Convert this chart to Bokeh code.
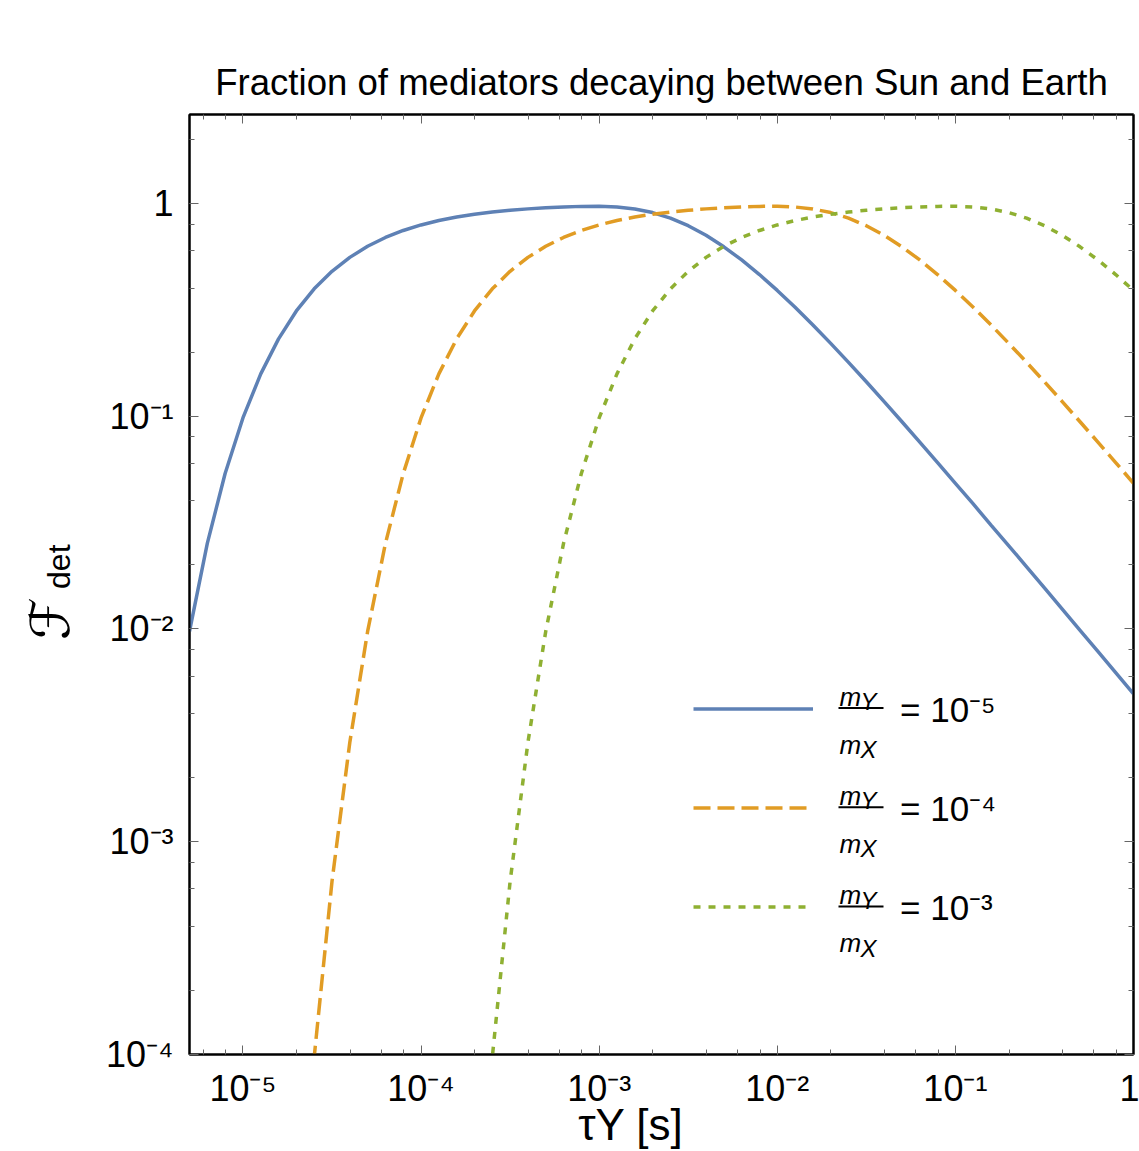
from bokeh.plotting import figure
from bokeh.models import (LogAxis, LogTicker, CustomJSTickFormatter, Legend, LegendItem,
                          Label, BoxAnnotation, Range1d)
from bokeh.embed import file_html
from bokeh.resources import INLINE

# ---------------- data ----------------
tau_blue = [5.012e-6, 6.310e-6, 7.943e-6,
            1.000e-5, 1.259e-5, 1.585e-5, 1.995e-5, 2.512e-5, 3.162e-5, 3.981e-5, 5.012e-5, 6.310e-5, 7.943e-5,
            1.000e-4, 1.259e-4, 1.585e-4, 1.995e-4, 2.512e-4, 3.162e-4, 3.981e-4, 5.012e-4, 6.310e-4, 7.943e-4,
            1.000e-3, 1.259e-3, 1.585e-3, 1.995e-3, 2.512e-3, 3.162e-3, 3.981e-3, 5.012e-3, 6.310e-3, 7.943e-3,
            1.000e-2, 1.259e-2, 1.585e-2, 1.995e-2, 2.512e-2, 3.162e-2, 3.981e-2, 5.012e-2, 6.310e-2, 7.943e-2,
            1.000e-1, 1.259e-1, 1.585e-1, 1.995e-1, 2.512e-1, 3.162e-1, 3.981e-1, 5.012e-1, 6.310e-1, 7.943e-1,
            1.0]
f_blue = [9.74e-3, 0.02525, 0.0538, 0.0982, 0.1582, 0.2311, 0.3125, 0.3970, 0.4800, 0.5582,
          0.6293, 0.6922, 0.7466, 0.7929, 0.8316, 0.8637, 0.8902, 0.9118, 0.9292, 0.9434,
          0.9547, 0.9635, 0.9693, 0.9703, 0.9627, 0.9426, 0.9063, 0.8535, 0.7862, 0.7085,
          0.6258, 0.5427, 0.4634, 0.3904, 0.3253, 0.2685, 0.2200, 0.1792, 0.1452, 0.1172,
          0.0942, 0.0756, 0.0606, 0.0484, 0.0387, 0.0308, 0.0246, 0.0196, 0.0156, 0.0124,
          0.00986, 0.00784, 0.00623, 0.00495]

tau_orange = [1.995e-5, 2.512e-5, 3.162e-5, 3.981e-5, 5.012e-5, 6.310e-5, 7.943e-5,
              1.000e-4, 1.259e-4, 1.585e-4, 1.995e-4, 2.512e-4, 3.162e-4, 3.981e-4, 5.012e-4, 6.310e-4, 7.943e-4,
              1.000e-3, 1.259e-3, 1.585e-3, 1.995e-3, 2.512e-3, 3.162e-3, 3.981e-3, 5.012e-3, 6.310e-3, 7.943e-3,
              1.000e-2, 1.259e-2, 1.585e-2, 1.995e-2, 2.512e-2, 3.162e-2, 3.981e-2, 5.012e-2, 6.310e-2, 7.943e-2,
              1.000e-1, 1.259e-1, 1.585e-1, 1.995e-1, 2.512e-1, 3.162e-1, 3.981e-1, 5.012e-1, 6.310e-1, 7.943e-1,
              1.0]
f_orange = [8.9e-6, 9.7e-5, 6.5e-4, 2.93e-3,
            9.74e-3, 0.02525, 0.0538, 0.0982, 0.1582, 0.2311, 0.3125, 0.3970, 0.4800, 0.5582,
            0.6293, 0.6922, 0.7466, 0.7929, 0.8316, 0.8637, 0.8902, 0.9118, 0.9292, 0.9434,
            0.9547, 0.9635, 0.9693, 0.9703, 0.9627, 0.9426, 0.9063, 0.8535, 0.7862, 0.7085,
            0.6258, 0.5427, 0.4634, 0.3904, 0.3253, 0.2685, 0.2200, 0.1792, 0.1452, 0.1172,
            0.0942, 0.0756, 0.0606, 0.0484]

tau_green = [1.995e-4, 2.512e-4, 3.162e-4, 3.981e-4, 5.012e-4, 6.310e-4, 7.943e-4,
             1.000e-3, 1.259e-3, 1.585e-3, 1.995e-3, 2.512e-3, 3.162e-3, 3.981e-3, 5.012e-3, 6.310e-3, 7.943e-3,
             1.000e-2, 1.259e-2, 1.585e-2, 1.995e-2, 2.512e-2, 3.162e-2, 3.981e-2, 5.012e-2, 6.310e-2, 7.943e-2,
             1.000e-1, 1.259e-1, 1.585e-1, 1.995e-1, 2.512e-1, 3.162e-1, 3.981e-1, 5.012e-1, 6.310e-1, 7.943e-1,
             1.0]
f_green = [8.9e-6, 9.7e-5, 6.5e-4, 2.93e-3,
           9.74e-3, 0.02525, 0.0538, 0.0982, 0.1582, 0.2311, 0.3125, 0.3970, 0.4800, 0.5582,
           0.6293, 0.6922, 0.7466, 0.7929, 0.8316, 0.8637, 0.8902, 0.9118, 0.9292, 0.9434,
           0.9547, 0.9635, 0.9693, 0.9703, 0.9627, 0.9426, 0.9063, 0.8535, 0.7862, 0.7085,
           0.6258, 0.5427, 0.4634, 0.3904]

x_tick_values = [1e-5, 1e-4, 1e-3, 1e-2, 1e-1, 1.0]
x_tick_labels = ["10\u207b\u2075", "10\u207b\u2074", "10\u207b\u00b3", "10\u207b\u00b2", "10\u207b\u00b9", "1"]
y_tick_values = [1e-4, 1e-3, 1e-2, 1e-1, 1.0]
y_tick_labels = ["10\u207b\u2074", "10\u207b\u00b3", "10\u207b\u00b2", "10\u207b\u00b9", "1"]
legend_labels = ["= 10\u207b\u2075", "= 10\u207b\u2074", "= 10\u207b\u00b3"]
title_text = "Fraction of mediators decaying between Sun and Earth"
x_label = "\u03c4Y [s]"
y_label_main = "\u2131"
y_label_sub = "det"

# ---------------- figure ----------------
FONT = "Liberation Sans"
BLUE, ORANGE, GREEN = "#5E81B5", "#E19C24", "#8FB032"
FIG = "\u2007"   # figure space (keeps label offsets)
PUNCT = "\u2008"  # punctuation space

# frame: page x 189..1133, y 114..1055
FL, FB = 189, 1055

p = figure(width=1139, height=1151, x_axis_type="log", y_axis_type="log",
           x_range=Range1d(5.012e-6, 1.0), y_range=Range1d(1e-4, 2.62),
           output_backend="svg", toolbar_location=None,
           min_border_left=189, min_border_right=6, min_border_top=114, min_border_bottom=96,
           title=title_text)

p.title.align = "center"
p.title.text_font = FONT
p.title.text_font_size = "36.6px"
p.title.text_font_style = "normal"
p.title.text_color = "black"
p.title.standoff = 23

p.xgrid.visible = False
p.ygrid.visible = False
p.outline_line_color = "black"
p.outline_line_width = 2
p.background_fill_color = "white"
p.border_fill_color = "white"


def fmt(vals, labs):
    return CustomJSTickFormatter(args=dict(vals=vals, labs=labs), code="""
        let best = -1, bd = 1e9;
        for (let i = 0; i < vals.length; i++) {
            const d = Math.abs(Math.log10(tick) - Math.log10(vals[i]));
            if (d < bd) { bd = d; best = i; }
        }
        return bd < 1e-3 ? labs[best] : "";
    """)


def blank():
    return CustomJSTickFormatter(code="return '';")


def style_axis(ax):
    ax.axis_line_color = "black"
    ax.axis_line_width = 2
    ax.major_tick_in = 9
    ax.major_tick_out = 0
    ax.minor_tick_in = 5
    ax.minor_tick_out = 0
    ax.major_tick_line_color = "#666666"
    ax.minor_tick_line_color = "#666666"
    ax.major_tick_line_width = 1
    ax.minor_tick_line_width = 1
    ax.major_label_text_font = FONT
    ax.major_label_text_font_size = "36px"
    ax.major_label_text_color = "black"


xa = p.xaxis[0]
ya = p.yaxis[0]
xa.ticker = LogTicker()
ya.ticker = LogTicker()
xa.formatter = fmt(x_tick_values, x_tick_labels)
ya.formatter = fmt(y_tick_values, y_tick_labels)
style_axis(xa)
style_axis(ya)
xa.major_label_standoff = 13
ya.major_label_standoff = 16

# x-axis title (trailing spaces shift it left like the reference)
xa.axis_label = x_label + FIG + FIG + PUNCT
xa.axis_label_text_font = FONT
xa.axis_label_text_font_size = "44px"
xa.axis_label_text_font_style = "normal"
xa.axis_label_text_color = "black"
xa.axis_label_standoff = -12

# y-axis title: subscript "det" on the main axis, script F on an outer axis
ya.axis_label = FIG + FIG + y_label_sub
ya.axis_label_text_font = FONT
ya.axis_label_text_font_size = "32px"
ya.axis_label_text_font_style = "normal"
ya.axis_label_text_color = "black"
ya.axis_label_standoff = 26

fa = LogAxis(ticker=LogTicker(), formatter=blank(), axis_label=y_label_main + FIG + FIG)
fa.axis_line_color = None
fa.major_tick_line_color = None
fa.minor_tick_line_color = None
fa.major_tick_in = 0
fa.major_tick_out = 0
fa.minor_tick_in = 0
fa.minor_tick_out = 0
fa.major_label_text_font_size = "1px"
fa.major_label_standoff = 0
fa.axis_label_text_font = "DejaVu Sans"
fa.axis_label_text_font_size = "54px"
fa.axis_label_text_font_style = "normal"
fa.axis_label_text_color = "black"
fa.axis_label_standoff = -44
p.add_layout(fa, "left")

top_ax = LogAxis(ticker=LogTicker(), formatter=blank())
right_ax = LogAxis(ticker=LogTicker(), formatter=blank())
style_axis(top_ax)
style_axis(right_ax)
top_ax.major_label_text_font_size = "1px"
right_ax.major_label_text_font_size = "1px"
top_ax.major_label_standoff = 0
right_ax.major_label_standoff = 0
p.add_layout(top_ax, "above")
p.add_layout(right_ax, "right")

# ---------------- curves ----------------
r1 = p.line(tau_blue, f_blue, line_color=BLUE, line_width=3.5)
r2 = p.line(tau_orange, f_orange, line_color=ORANGE, line_width=3.5, line_dash="17 7")
r3 = p.line(tau_green, f_green, line_color=GREEN, line_width=3.5, line_dash="7 8")

# ---------------- legend ----------------
legend = Legend(items=[LegendItem(label=legend_labels[0], renderers=[r1]),
                       LegendItem(label=legend_labels[1], renderers=[r2]),
                       LegendItem(label=legend_labels[2], renderers=[r3])],
                location=(693 - FL, FB - 957), glyph_width=120, glyph_height=99, spacing=0,
                padding=0, margin=0, label_standoff=87,
                label_text_font=FONT, label_text_font_size="35px", label_text_color="black",
                border_line_color=None, background_fill_alpha=0)
p.add_layout(legend)

ROW = 99.3
for k in range(3):
    dy = ROW * k
    for txt, px, py, size in [("m", 839, 697, "26px"), ("Y", 860, 702, "24px"),
                              ("m", 839, 745, "26px"), ("X", 860, 750, "24px")]:
        p.add_layout(Label(x=px - FL, y=FB - (py + dy), text=txt, x_units="screen", y_units="screen",
                           text_font=FONT, text_font_style="italic", text_font_size=size,
                           text_baseline="alphabetic", text_align="left", text_color="black"))
    p.add_layout(BoxAnnotation(left=838 - FL, right=883 - FL, bottom=FB - (709.5 + dy), top=FB - (707.5 + dy),
                               left_units="screen", right_units="screen", top_units="screen",
                               bottom_units="screen", fill_color="black", fill_alpha=1.0,
                               line_color=None, level="overlay"))

open("out.html", "w").write(file_html(p, INLINE))
